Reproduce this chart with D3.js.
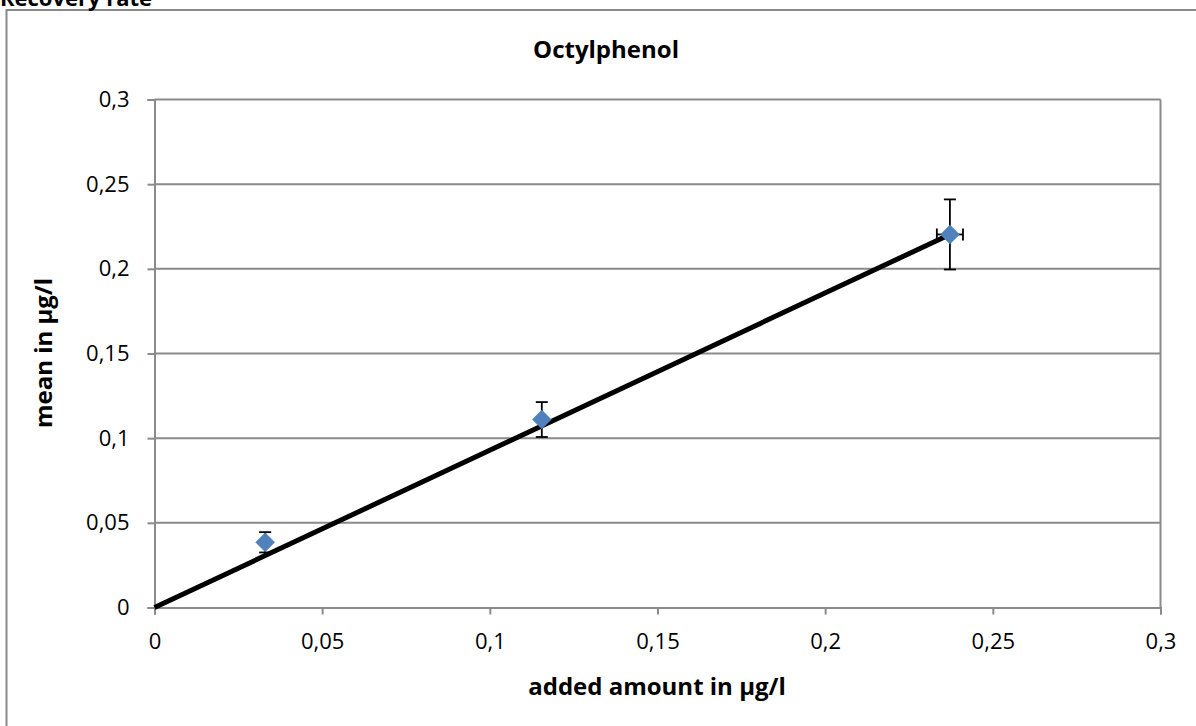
<!DOCTYPE html>
<html><head><meta charset="utf-8">
<script src="https://cdn.jsdelivr.net/npm/d3@7"></script>
<style>body{margin:0;background:#fff;} svg{display:block;}</style>
</head><body>
<svg id="c" width="1196" height="726"></svg>
<script>
const addedAmount = [0.033, 0.1155, 0.2372];
const meanValues = [0.0385, 0.111, 0.2203];
const yErr = [0.006, 0.0103, 0.0207];
const xErr = [0, 0, 0.0039];
const lineX = [0, 0.2372];
const lineY = [0, 0.2203];
const xTicks = [0, 0.05, 0.1, 0.15, 0.2, 0.25, 0.3];
const yTicks = [0, 0.05, 0.1, 0.15, 0.2, 0.25, 0.3];
const chartTitle = "Octylphenol";
const pageTitle = "Recovery rate";
const xLabel = "added amount in µg/l";
const yLabel = "mean in µg/l";

const svg = d3.select("#c");
const font = "'Open Sans', sans-serif";
const grid = "#8a8a8a";
const L = 154.5, R = 1160.5, T = 99.5, B = 607.5;
const x = d3.scaleLinear().domain([0, 0.3]).range([L, R]);
const y = d3.scaleLinear().domain([0, 0.3]).range([B, T]);
const fmt = d => String(+d.toFixed(2)).replace(".", ",");

// outer chart frame
svg.append("path").attr("d", "M6.5,730 V10 H1200").attr("fill","none").attr("stroke","#8a8a8a").attr("stroke-width",2);
svg.append("text").attr("x", 0).attr("y", 6).style("font-family", font).style("font-weight","bold").style("font-size","22px").attr("fill","#000").text(pageTitle);

// gridlines
svg.append("g").selectAll("line").data(yTicks.filter(d=>d>0)).join("line")
  .attr("x1", L).attr("x2", R).attr("y1", d=>y(d)).attr("y2", d=>y(d))
  .attr("stroke", grid).attr("stroke-width", 2);
// right border
svg.append("line").attr("x1",R).attr("x2",R).attr("y1",T).attr("y2",B).attr("stroke",grid).attr("stroke-width",2);

// axes
const yAxis = d3.axisLeft(y).tickValues(yTicks).tickFormat(fmt).tickSize(7).tickPadding(18);
const xAxis = d3.axisBottom(x).tickValues(xTicks).tickFormat(fmt).tickSize(7).tickPadding(19);
const gy = svg.append("g").attr("transform", `translate(${L},0)`).call(yAxis);
const gx = svg.append("g").attr("transform", `translate(0,${B})`).call(xAxis);
[gx, gy].forEach(g => {
  g.attr("font-size", null).attr("font-family", null);
  g.select(".domain").attr("stroke", grid).attr("stroke-width", 2);
  g.selectAll(".tick line").attr("stroke", grid).attr("stroke-width", 2);
  g.selectAll(".tick text").style("font-family", font).style("font-size", "22px").attr("fill", "#000");
});

// titles
svg.append("text").attr("x", 606).attr("y", 58).attr("text-anchor","middle").style("font-family", font).style("font-weight","bold").style("font-size","24px").text(chartTitle);
svg.append("text").attr("x", 657).attr("y", 695).attr("text-anchor","middle").style("font-family", font).style("font-weight","bold").style("font-size","24px").text(xLabel);
svg.append("text").attr("transform","translate(52,353) rotate(-90)").attr("text-anchor","middle").style("font-family", font).style("font-weight","bold").style("font-size","24px").text(yLabel);

// trend line
svg.append("line").attr("x1", x(lineX[0])).attr("y1", y(lineY[0])).attr("x2", x(lineX[1])).attr("y2", y(lineY[1]))
  .attr("stroke","#000").attr("stroke-width",5);

// error bars
const pts = addedAmount.map((v,i)=>({x:v, y:meanValues[i], ey:yErr[i], ex:xErr[i]}));
const eb = svg.append("g").attr("stroke","#000").attr("stroke-width",1.8);
pts.forEach(p => {
  eb.append("line").attr("x1",x(p.x)).attr("x2",x(p.x)).attr("y1",y(p.y-p.ey)).attr("y2",y(p.y+p.ey));
  [p.y-p.ey, p.y+p.ey].forEach(v => eb.append("line").attr("x1",x(p.x)-6).attr("x2",x(p.x)+6).attr("y1",y(v)).attr("y2",y(v)));
  if (p.ex > 0) {
    eb.append("line").attr("x1",x(p.x-p.ex)).attr("x2",x(p.x+p.ex)).attr("y1",y(p.y)).attr("y2",y(p.y));
    [p.x-p.ex, p.x+p.ex].forEach(v => eb.append("line").attr("x1",x(v)).attr("x2",x(v)).attr("y1",y(p.y)-6).attr("y2",y(p.y)+6));
  }
});

// markers
svg.append("g").selectAll("path").data(pts).join("path")
  .attr("d", d3.symbol(d3.symbolDiamond2, 230))
  .attr("transform", d=>`translate(${x(d.x)},${y(d.y)})`)
  .attr("fill","#4f81bd").attr("stroke","#4a7ab5").attr("stroke-width",0.5);
</script>
</body></html>
